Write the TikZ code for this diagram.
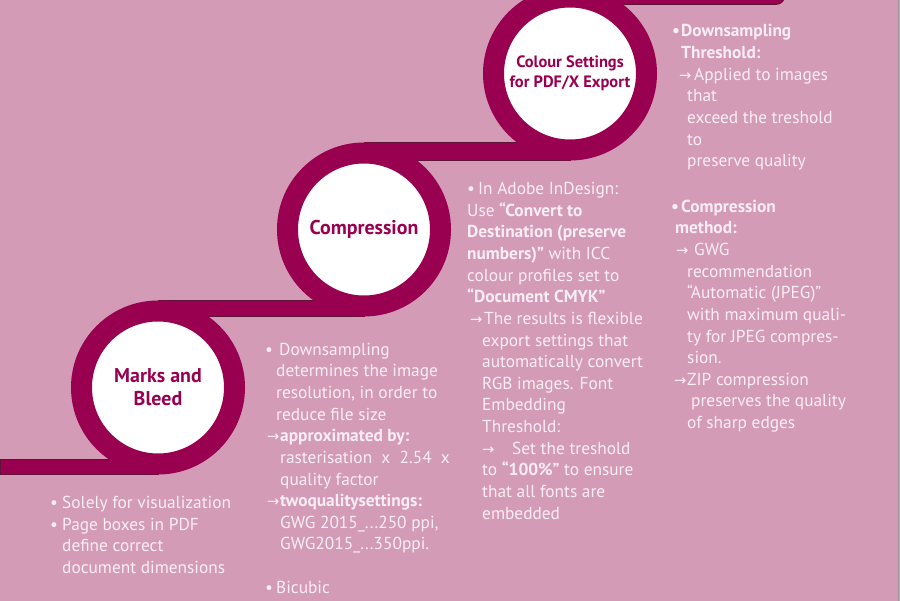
\documentclass[tikz,border=0pt]{standalone}
\usepackage{fontspec}
\setmainfont{PT Sans}
\newfontfamily\arrowfont{DejaVu Sans}[Scale=0.85]
\pgfdeclarelayer{bg}
\pgfdeclarelayer{strips}
\pgfsetlayers{bg,strips,main}
\definecolor{bgpink}{RGB}{211,155,182}
\definecolor{band}{RGB}{153,0,80}
\definecolor{bandedge}{RGB}{95,20,55}
\definecolor{notetext}{RGB}{250,238,244}
\newcommand{\arr}{{\arrowfont →}}
\newcommand{\ind}[1]{\hspace*{#1bp}}
\newcommand{\bul}[1]{\makebox[#1bp][l]{•}}
\newcommand{\arrbox}[1]{\makebox[#1bp][l]{\arr}}
\tikzset{
  stage ring/.style={circle, draw=band, fill=white, line width=21bp,
    minimum size=153bp, inner sep=0pt, align=center, text=band,
    font=\fontsize{20}{23}\selectfont\bfseries},
  band strip/.style={fill=band, draw=bandedge, line width=0.8bp},
  % anchored at the baseline of the last line
  body note/.style={anchor=base west, inner sep=0pt, align=left,
    text=notetext, font=\fontsize{17.4}{21.7}\selectfont},
}
\begin{document}
\begin{tikzpicture}[x=1bp, y=-1bp]
\begin{pgfonlayer}{bg}
  \fill[bgpink] (0,0) rectangle (900,600);
  \draw[gray!80, line width=1bp] (898,0) -- (898,600);
\end{pgfonlayer}
\useasboundingbox (0,0) rectangle (900,600);
% stages
\node[stage ring] (marks) at (158,387) {Marks and\\Bleed};
\node[stage ring] (compr) at (364,229) {Compression};
\node[stage ring, font=\fontsize{16.5}{20}\selectfont\bfseries] (colour) at (570,73) {Colour Settings\\for PDF/X Export};
% strips between the stages
\begin{pgfonlayer}{strips}
  \coordinate (in) at (0,459);
  \coordinate (out) at (785,4);
  \draw[band strip] (in) rectangle (marks.south);
  \draw[band strip] (marks.north) rectangle (compr.south);
  \draw[band strip] (compr.north) rectangle (colour.south);
  \draw[band strip, rounded corners=9bp] (colour.north) rectangle (out);
\end{pgfonlayer}
% notes
\node[body note] (visual) at (50,573.1) {\bul{12}Solely for visualization\\
  \bul{12}Page boxes in PDF\\
  \ind{12}define correct\\
  \ind{12}document dimensions};
\node[body note] (downs) at (265,592.7) {\bul{14}Downsampling\\
  \ind{11}determines the image\\
  \ind{11}resolution, in order to\\
  \ind{11}reduce file size\\
  \ind{2}\arrbox{13}\textbf{approximated by:}\\
  \ind{15}rasterisation \ x \ 2.54 \ x\\
  \ind{15}quality factor\\
  \ind{2}\arrbox{13}\textbf{twoqualitysettings:}\\
  \ind{15}GWG 2015\_...250 ppi,\\
  \ind{15}GWG2015\_...350ppi.\\[21.7bp]
  \bul{11}Bicubic};
\node[body note] (indesign) at (467,518.5) {\bul{11}In Adobe InDesign:\\
  Use \textbf{“Convert to}\\
  \textbf{Destination (preserve}\\
  \textbf{numbers)”} with ICC\\
  colour profiles set to\\
  \textbf{“Document CMYK”}\\
  \ind{3}\arrbox{14}The results is flexible\\
  \ind{15}export settings that\\
  \ind{15}automatically convert\\
  \ind{15}RGB images. Font\\
  \ind{15}Embedding\\
  \ind{15}Threshold:\\
  \ind{15}\arrbox{30}Set the treshold\\
  \ind{15}to \textbf{“100\%”} to ensure\\
  \ind{15}that all fonts are\\
  \ind{15}embedded};
\node[body note] (thresh) at (672,166.2) {\textbf{\bul{9}Downsampling}\\
  \ind{9}\textbf{Threshold:}\\
  \ind{7}\arrbox{15}Applied to images\\
  \ind{15}that\\
  \ind{15}exceed the treshold\\
  \ind{15}to\\
  \ind{15}preserve quality};
\node[body note] (method) at (671,428) {\textbf{\bul{10}Compression}\\
  \ind{4}\textbf{method:}\\
  \ind{5}\arrbox{18}GWG\\
  \ind{16}recommendation\\
  \ind{16}“Automatic (JPEG)”\\
  \ind{16}with maximum quali-\\
  \ind{16}ty for JPEG compres-\\
  \ind{16}sion.\\
  \ind{3}\arrbox{13}ZIP compression\\
  \ind{20}preserves the quality\\
  \ind{16}of sharp edges};
\end{tikzpicture}
\end{document}
